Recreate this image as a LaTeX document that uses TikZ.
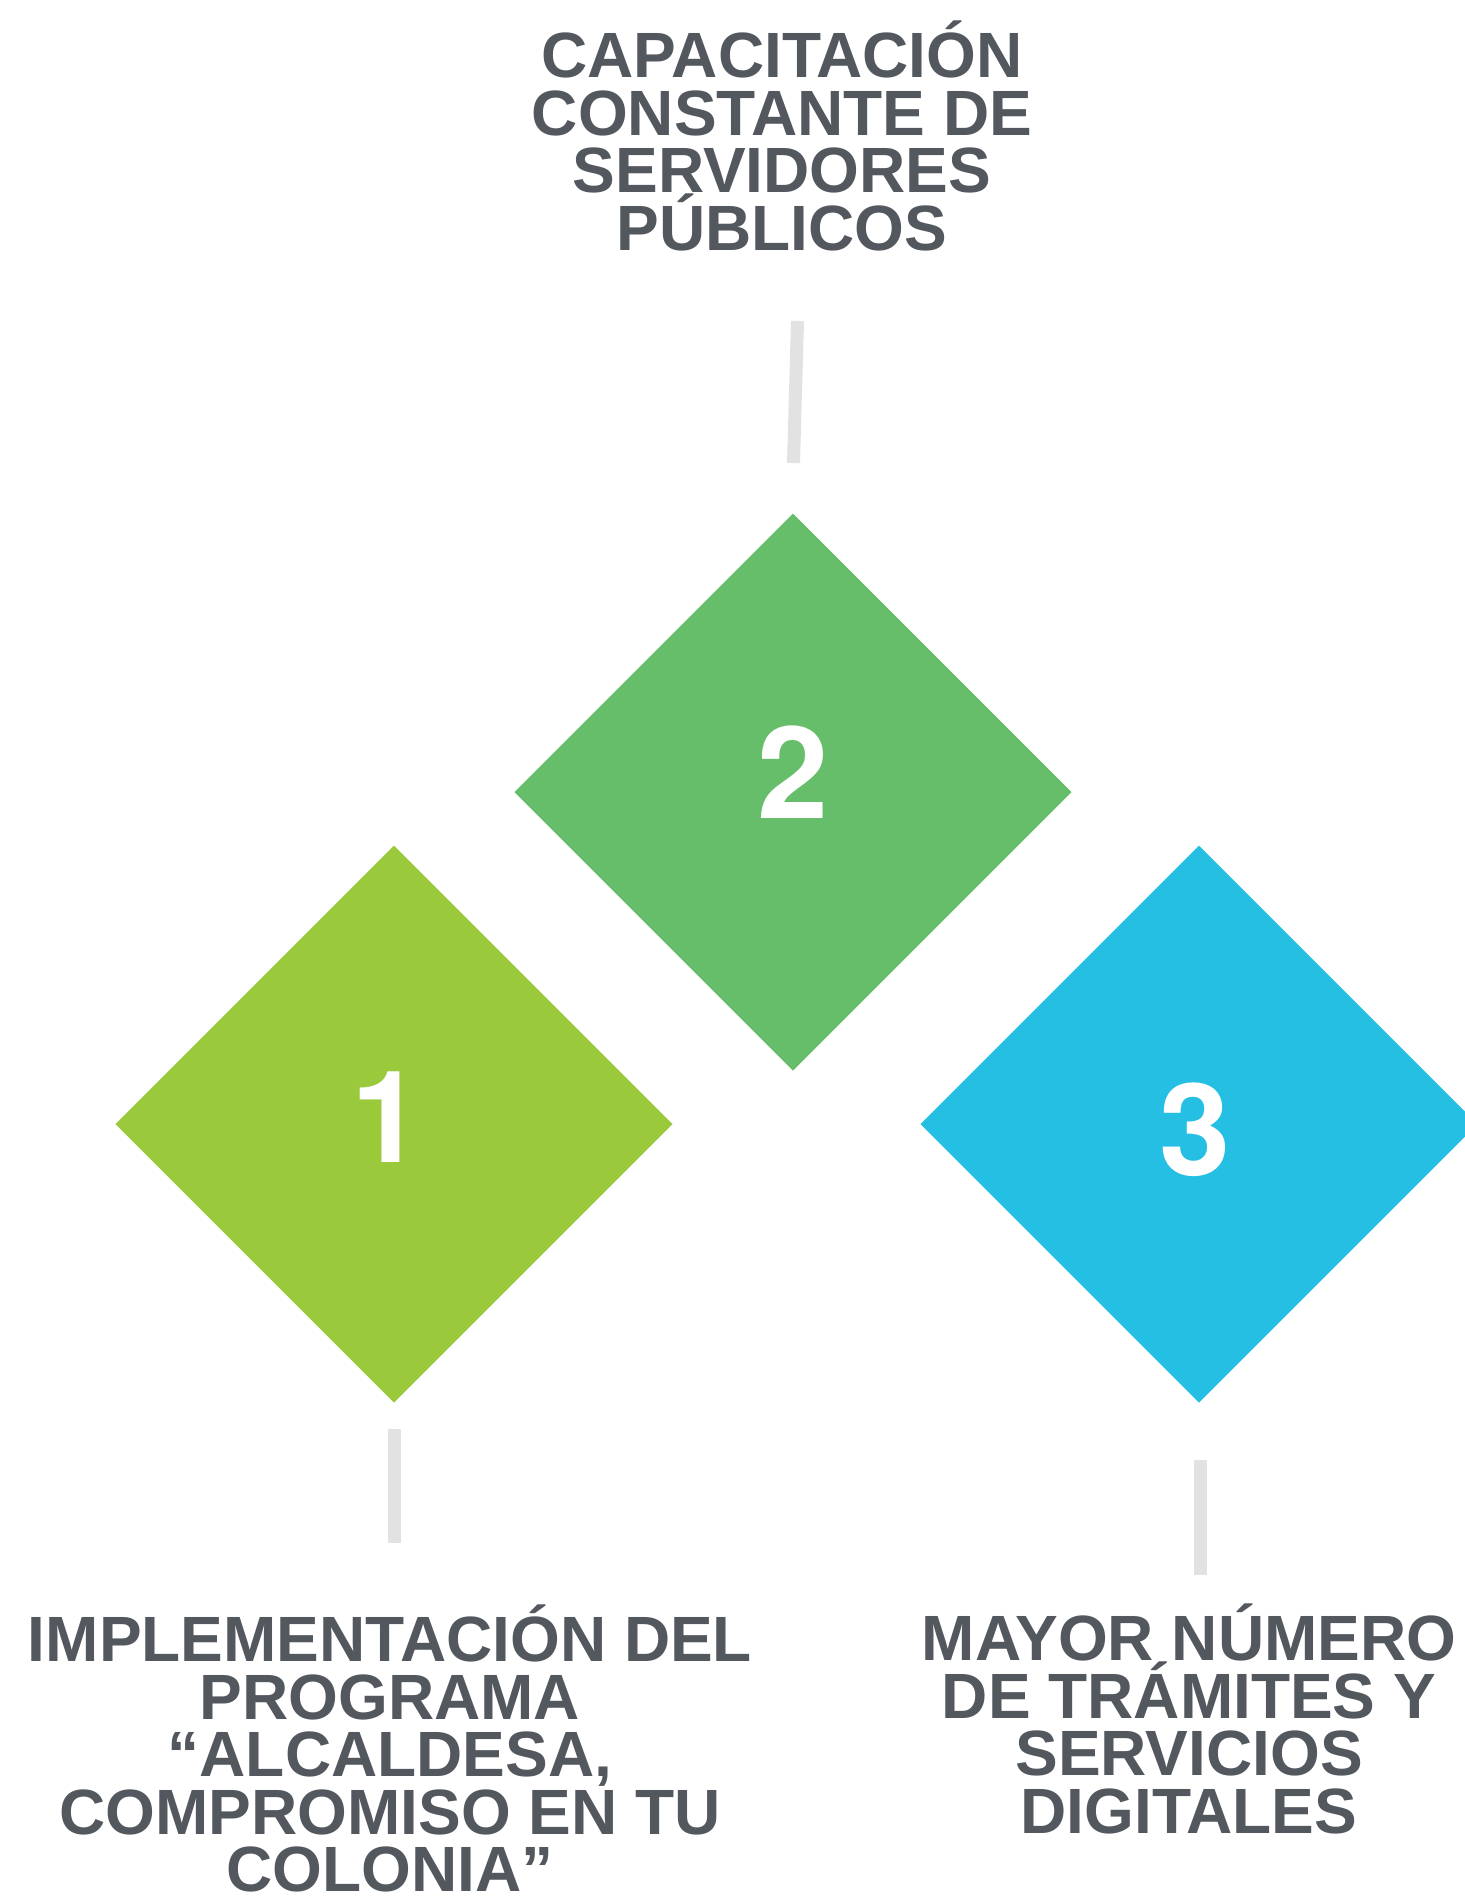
\documentclass[tikz,border=0pt]{standalone}
\usepackage{fontspec}
\setmainfont{Liberation Sans}
\newfontfamily\digitfont{TeX Gyre Heros}
\usetikzlibrary{shapes.geometric}
\definecolor{txt}{HTML}{53575E}
\definecolor{gA}{HTML}{9ACA3C}
\definecolor{gB}{HTML}{66BE6A}
\definecolor{bC}{HTML}{25BFE3}
\definecolor{ln}{HTML}{E2E2E2}
\setlength{\lineskiplimit}{-1000pt}
\setlength{\lineskip}{0pt}
\tikzset{
  dia/.style={shape=diamond, aspect=1, inner sep=0pt, outer sep=0pt,
    minimum width=278.5pt, minimum height=278.5pt, draw=none},
  num/.style={text=white, anchor=base, inner sep=0pt,
    font=\digitfont\fontsize{64}{64}\selectfont\bfseries},
  lbl/.style={text=txt, align=center, inner sep=0pt, anchor=base,
    font=\fontsize{32}{28.75}\selectfont\bfseries},
  link/.style={draw=ln, line width=6.5pt}
}
\begin{document}
\begin{tikzpicture}[x=0.5pt, y=-0.5pt]
\useasboundingbox (0,0) rectangle (1465,1896);
\clip (0,0) rectangle (1465,1896);
% diamonds
\node[dia, fill=gA] (d1) at (394,1124) {};
\node[dia, fill=gB] (d2) at (793,792) {};
\node[dia, fill=bC] (d3) at (1199,1124) {};
% numbers
\node[num] (n1) at (387,1162) {1};
\node[num] (n2) at (793,818) {2};
\node[num] (n3) at (1195,1175) {3};
% connector lines
\coordinate (c2a) at (797.5,321);
\coordinate (c2b) at (793.5,463);
\coordinate (c1a) at (394.3,1429);
\coordinate (c1b) at (394.3,1543);
\coordinate (c3a) at (1200,1460);
\coordinate (c3b) at (1200,1575);
\draw[link] (c2a) -- (c2b);
\draw[link] (c1a) -- (c1b);
\draw[link] (c3a) -- (c3b);
% labels (base anchor = baseline of last line)
\node[lbl] (t2) at (782,250) {CAPACITACIÓN\\CONSTANTE DE\\SERVIDORES\\PÚBLICOS};
\node[lbl] (t1) at (390,1891.7) {IMPLEMENTACIÓN DEL\\PROGRAMA\\“ALCALDESA,\\COMPROMISO EN TU\\COLONIA”};
\node[lbl] (t3) at (1189,1833) {MAYOR NÚMERO\\DE TRÁMITES Y\\SERVICIOS\\DIGITALES};
\end{tikzpicture}
\end{document}
